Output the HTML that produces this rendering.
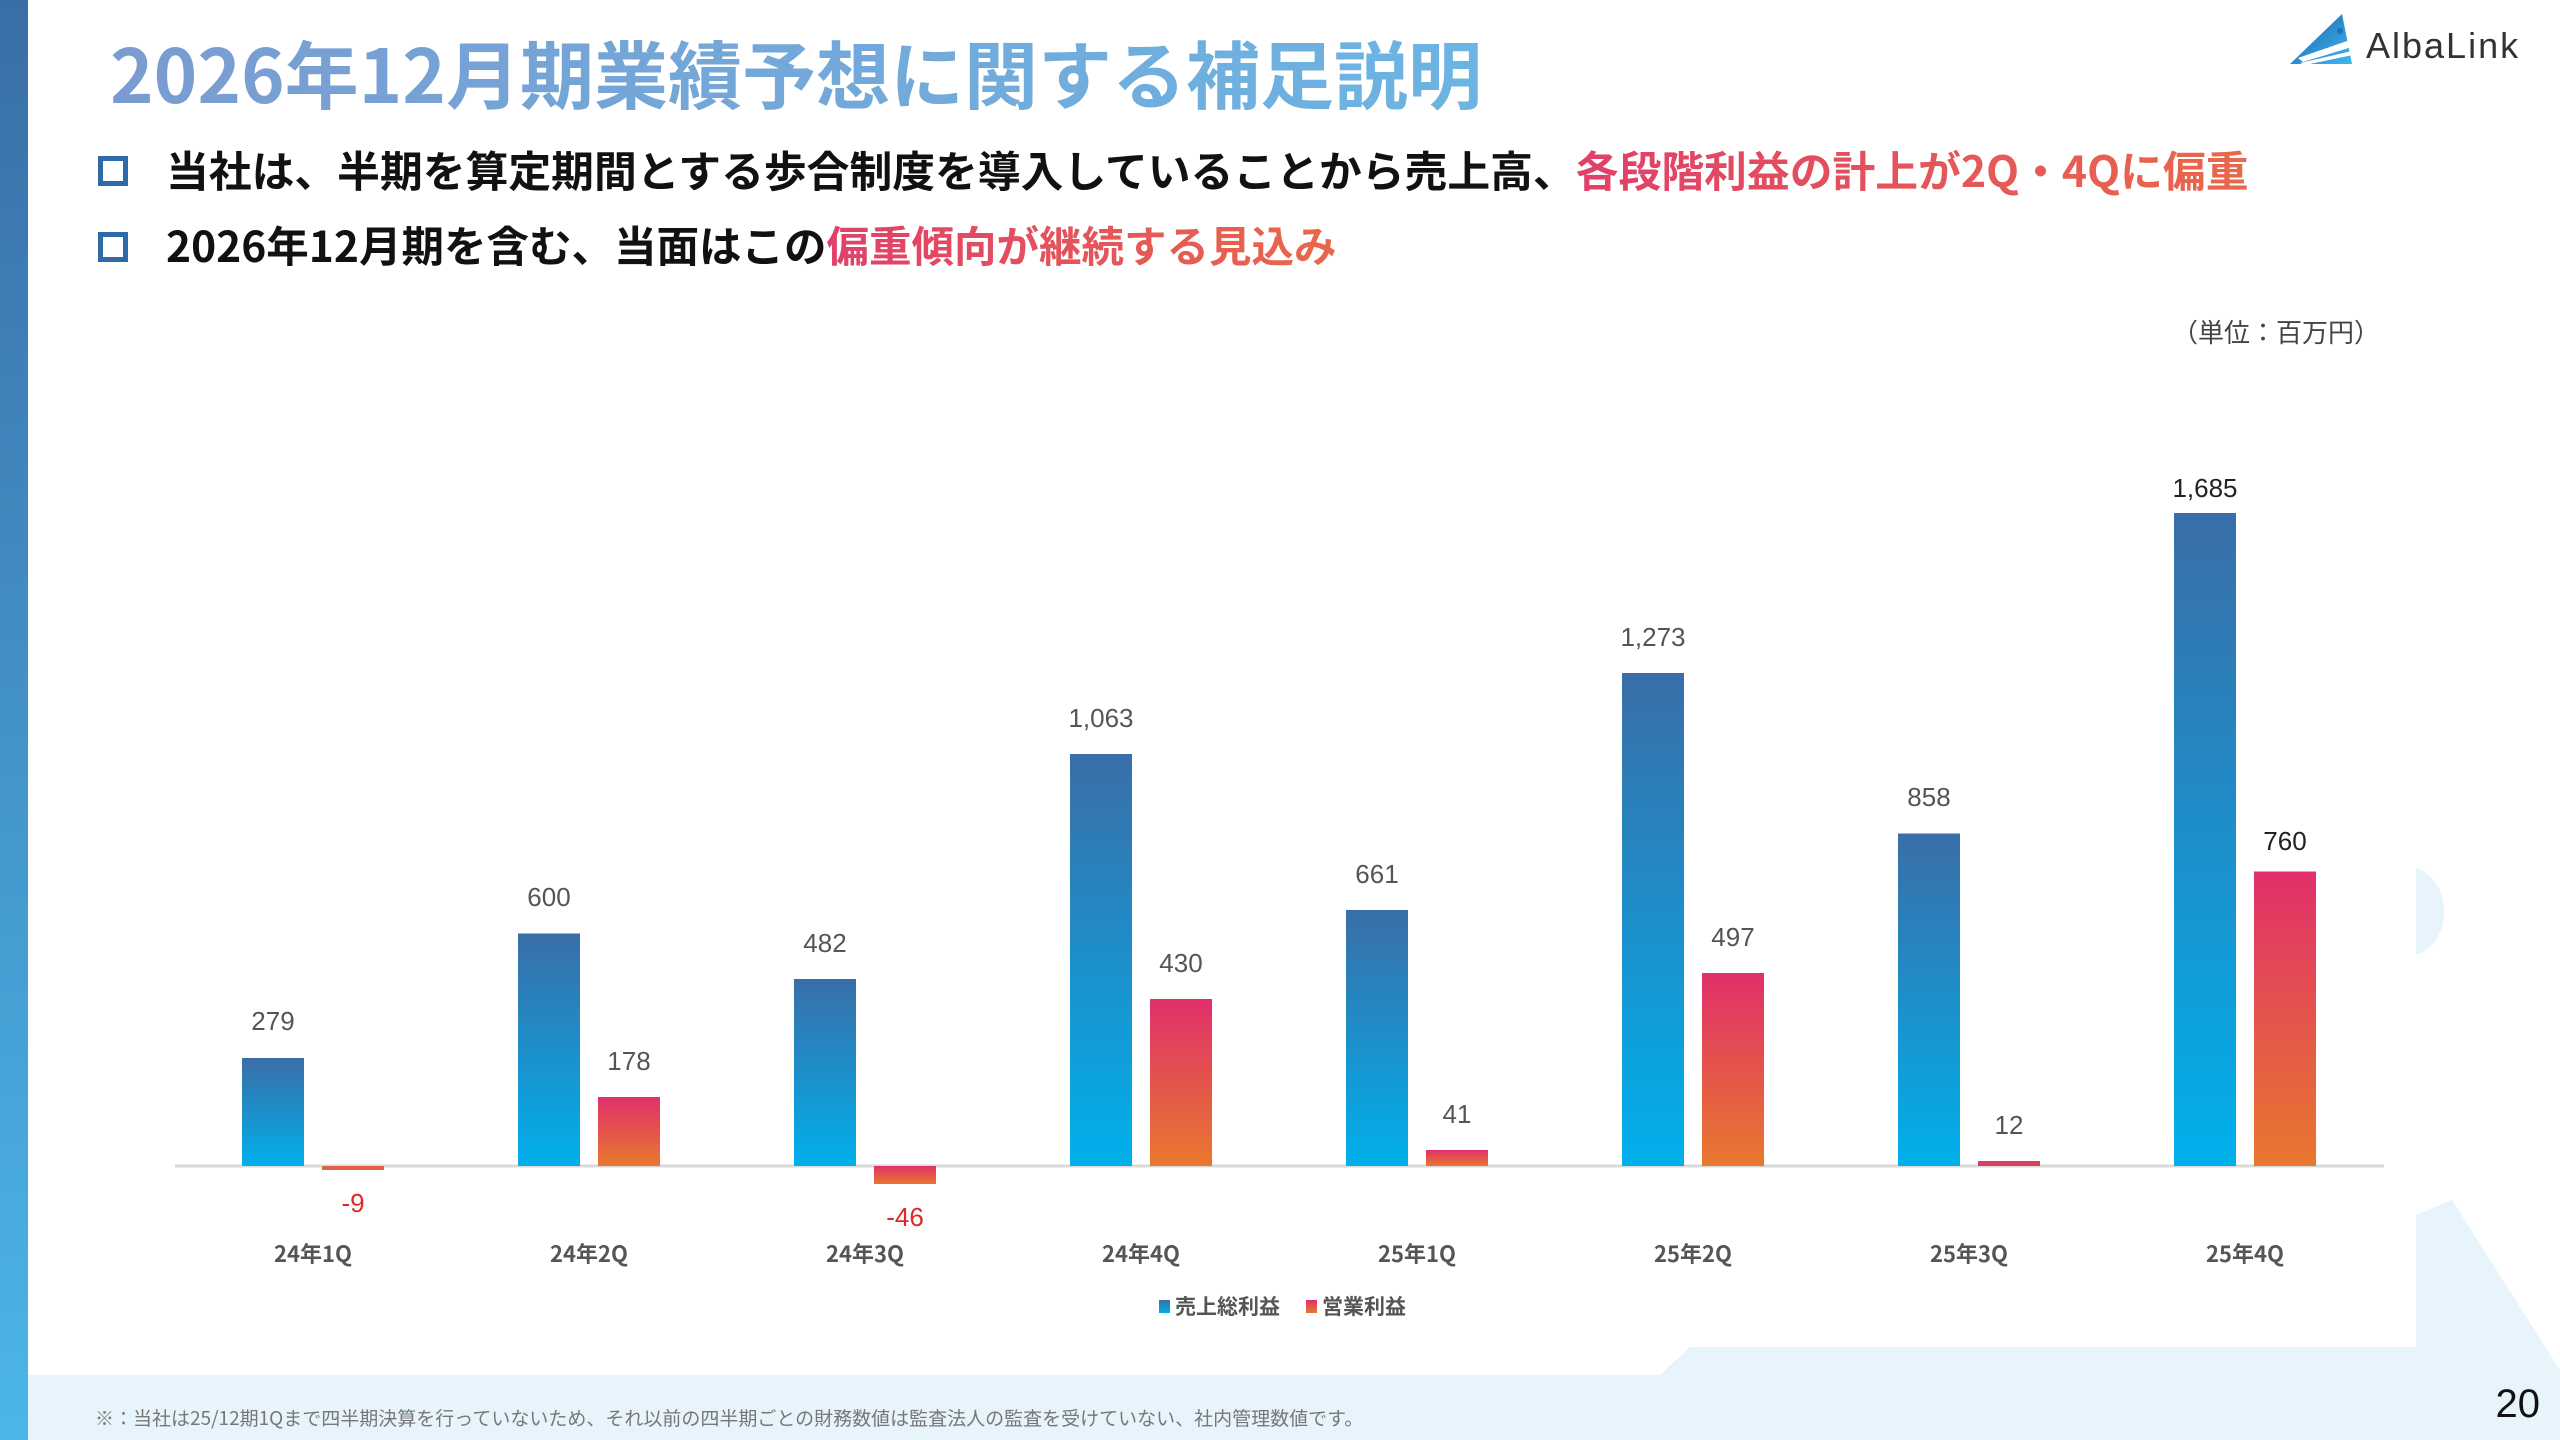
<!DOCTYPE html>
<html><head><meta charset="utf-8">
<style>
html,body{margin:0;padding:0}
body{width:2560px;height:1440px;position:relative;overflow:hidden;background:#fff;font-family:"Liberation Sans","Noto Sans CJK JP",sans-serif}
.side{position:absolute;left:0;top:0;width:28px;height:1440px;background:linear-gradient(#3a6ea8,#4bb6e8)}
.title{position:absolute;left:110px;top:18px;font-size:74px;font-weight:bold;white-space:nowrap;background:linear-gradient(90deg,#7a9cd0,#6cb4e2);-webkit-background-clip:text;background-clip:text;color:transparent;font-family:"Noto Sans CJK JP",sans-serif}
.b{position:absolute;left:98px;width:20px;height:20px;border:5px solid #2f6aa8}
.t{position:absolute;left:166px;font-size:42.8px;font-weight:bold;white-space:nowrap;color:#111;font-family:"Noto Sans CJK JP",sans-serif;line-height:1}
.r{background:linear-gradient(90deg,#e0406a,#e8684a);-webkit-background-clip:text;background-clip:text;color:transparent}
</style></head><body>
<svg width="2560" height="1440" style="position:absolute;left:0;top:0">
<defs>
<linearGradient id="gb" x1="0" y1="0" x2="0" y2="1"><stop offset="0" stop-color="#3a6ea8"/><stop offset="1" stop-color="#00b0ec"/></linearGradient>
<linearGradient id="gr" x1="0" y1="0" x2="0" y2="1"><stop offset="0" stop-color="#e0306a"/><stop offset="1" stop-color="#e8782e"/></linearGradient>
<linearGradient id="gl" x1="0" y1="0" x2="1" y2="1"><stop offset="0" stop-color="#1a5fb0"/><stop offset="1" stop-color="#40b8ec"/></linearGradient>
</defs>
<rect x="0" y="1375" width="2560" height="65" fill="#e8f4fc"/>
<polygon points="1660,1375 1690,1347 2420,1347 2420,1375" fill="#e8f4fc"/>
<polygon points="2416,1215 2452,1200 2560,1370 2560,1375 2416,1375" fill="#e8f4fc"/>
<path d="M2416,868 A38,45 0 0 1 2416,955 Z" fill="#e8f4fc"/>
<!-- logo -->
<polygon points="2290,64 2342,14 2352,64" fill="url(#gl)"/>
<polygon points="2298,58 2350,40 2352,47 2303,62" fill="#fff"/>
<polygon points="2300,63 2352,51 2353,55 2305,65" fill="#fff"/>
<circle cx="2340" cy="31" r="3" fill="#1a6fc0"/>
<text x="2366" y="58" font-size="36" fill="#333" font-family="Liberation Sans, sans-serif" letter-spacing="2">AlbaLink</text>
<text x="2380" y="342" font-size="26" fill="#444" text-anchor="end" font-family="Noto Sans CJK JP, sans-serif">（単位：百万円）</text>
<!-- axis -->
<line x1="175" y1="1166" x2="2384" y2="1166" stroke="#d9d9d9" stroke-width="3"/>
<g font-size="26" fill="#555" text-anchor="middle" font-family="Liberation Sans, sans-serif">
<rect x="242" y="1058" width="62" height="108" fill="url(#gb)"/>
<text x="273" y="1030">279</text>
<rect x="322" y="1166" width="62" height="4" fill="#e0604a"/>
<text x="353" y="1212" fill="#e02828">-9</text>

<rect x="518" y="933.5" width="62" height="232.5" fill="url(#gb)"/>
<text x="549" y="906">600</text>
<rect x="598" y="1097" width="62" height="69" fill="url(#gr)"/>
<text x="629" y="1070">178</text>

<rect x="794" y="979" width="62" height="187" fill="url(#gb)"/>
<text x="825" y="952">482</text>
<rect x="874" y="1166" width="62" height="18" fill="url(#gr)"/>
<text x="905" y="1226" fill="#e02828">-46</text>

<rect x="1070" y="754" width="62" height="412" fill="url(#gb)"/>
<text x="1101" y="727">1,063</text>
<rect x="1150" y="999" width="62" height="167" fill="url(#gr)"/>
<text x="1181" y="972">430</text>

<rect x="1346" y="910" width="62" height="256" fill="url(#gb)"/>
<text x="1377" y="883">661</text>
<rect x="1426" y="1150" width="62" height="16" fill="url(#gr)"/>
<text x="1457" y="1123">41</text>

<rect x="1622" y="673" width="62" height="493" fill="url(#gb)"/>
<text x="1653" y="646">1,273</text>
<rect x="1702" y="973" width="62" height="193" fill="url(#gr)"/>
<text x="1733" y="946">497</text>

<rect x="1898" y="833.5" width="62" height="332.5" fill="url(#gb)"/>
<text x="1929" y="806">858</text>
<rect x="1978" y="1161" width="62" height="5" fill="#d84060"/>
<text x="2009" y="1134">12</text>

<rect x="2174" y="513" width="62" height="653" fill="url(#gb)"/>
<text x="2205" y="497" fill="#222">1,685</text>
<rect x="2254" y="871.5" width="62" height="294.5" fill="url(#gr)"/>
<text x="2285" y="850" fill="#222">760</text>
</g>
<g font-size="22" font-weight="bold" fill="#555" text-anchor="middle" font-family="Noto Sans CJK JP, sans-serif">
<text x="313" y="1262">24年1Q</text>
<text x="589" y="1262">24年2Q</text>
<text x="865" y="1262">24年3Q</text>
<text x="1141" y="1262">24年4Q</text>
<text x="1417" y="1262">25年1Q</text>
<text x="1693" y="1262">25年2Q</text>
<text x="1969" y="1262">25年3Q</text>
<text x="2245" y="1262">25年4Q</text>
</g>
<rect x="1159" y="1300" width="11" height="13" fill="url(#gb)"/>
<text x="1175" y="1314" font-size="21" font-weight="bold" fill="#555" font-family="Noto Sans CJK JP, sans-serif">売上総利益</text>
<rect x="1306" y="1300" width="11" height="13" fill="url(#gr)"/>
<text x="1322" y="1314" font-size="21" font-weight="bold" fill="#555" font-family="Noto Sans CJK JP, sans-serif">営業利益</text>
<text x="95" y="1425" font-size="19" fill="#777" font-family="Noto Sans CJK JP, sans-serif">※：当社は25/12期1Qまで四半期決算を行っていないため、それ以前の四半期ごとの財務数値は監査法人の監査を受けていない、社内管理数値です。</text>
<text x="2540" y="1417" font-size="40" fill="#111" text-anchor="end" font-family="Liberation Sans, sans-serif">20</text>
</svg>
<div class="side"></div>
<div class="title">2026年12月期業績予想に関する補足説明</div>
<div class="b" style="top:156px"></div>
<div class="t" style="top:148px">当社は、半期を算定期間とする歩合制度を導入していることから売上高、<span class="r">各段階利益の計上が2Q・4Qに偏重</span></div>
<div class="b" style="top:232px"></div>
<div class="t" style="top:224px;font-size:42.5px">2026年12月期を含む、当面はこの<span class="r">偏重傾向が継続する見込み</span></div>
</body></html>
